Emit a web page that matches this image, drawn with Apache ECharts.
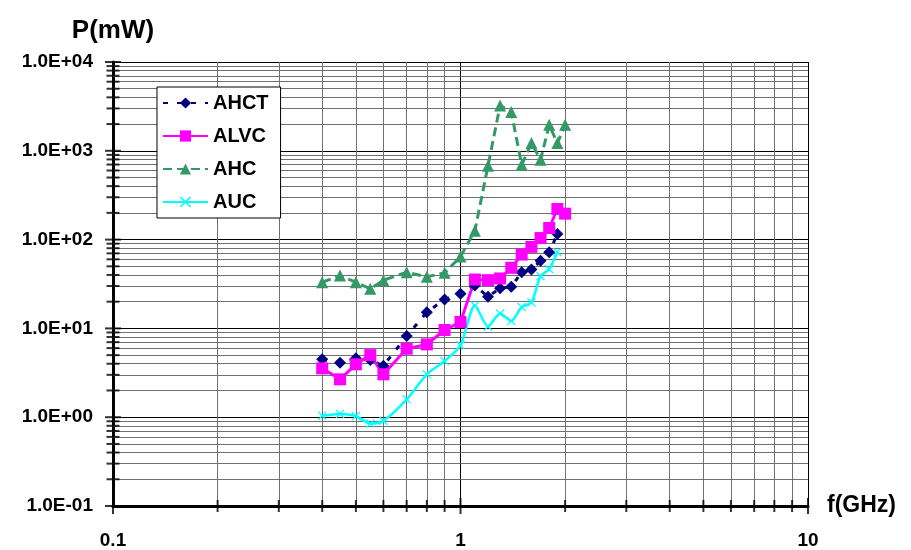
<!DOCTYPE html>
<html>
<head>
<meta charset="utf-8">
<title>P(mW) vs f(GHz)</title>
<script src="https://cdn.jsdelivr.net/npm/echarts@6/dist/echarts.min.js"></script>
<style>
  html, body { margin: 0; padding: 0; background: #ffffff; overflow: hidden; }
  #chart { width: 911px; height: 550px; }
</style>
</head>
<body>
<div id="chart"></div>
<script>
// Frequency points (GHz) shared by all series
const freqs = [0.4, 0.45, 0.5, 0.55, 0.6, 0.7, 0.8, 0.9, 1.0, 1.1, 1.2, 1.3, 1.4, 1.5, 1.6, 1.7, 1.8, 1.9, 2.0];

// Power (mW) per technique
const ahct = [4.5, 4.1, 4.6, 4.4, 3.8, 8.2, 15.2, 21.2, 24.5, 30.4, 22.7, 28.4, 29.4, 42.9, 46, 57.6, 72, 116];
const alvc = [3.55, 2.67, 3.94, 5.0, 3.04, 5.9, 6.6, 9.6, 11.8, 35.5, 34.9, 36.5, 48.1, 67.8, 82.8, 104, 135, 221, 196];
const ahc  = [33.1, 39.4, 33.1, 27.9, 34.9, 42.9, 38.1, 42.2, 64.4, 126, 678, 3245, 2743, 696, 1221, 792, 1960, 1221, 1960];
const auc  = [1.04, 1.09, 1.03, 0.85, 0.91, 1.59, 3.04, 4.29, 6.44, 18.1, 10.5, 14.7, 12.1, 17.4, 19.6, 38.7, 46.6, 72.4];

// Axis ticks and their labels
const xTicks = [0.1, 1, 10];
const xTickLabels = ['0.1', '1', '10'];
const yTicks = [0.1, 1, 10, 100, 1000, 10000];
const yTickLabels = ['1.0E-01', '1.0E+00', '1.0E+01', '1.0E+02', '1.0E+03', '1.0E+04'];
const minorSteps = [2, 3, 4, 5, 6, 7, 8, 9];

const FONT = '"Liberation Sans", Arial, sans-serif';

function pairs(values) {
  return values.map((v, i) => [freqs[i], v]);
}

function labelFor(ticks, labels) {
  return function (v) {
    for (let i = 0; i < ticks.length; i++) {
      if (Math.abs(Math.log10(v) - Math.log10(ticks[i])) < 1e-6) return labels[i];
    }
    return '';
  };
}

// Minor (2..9) values inside each decade of an axis
function minorValues(ticks) {
  const out = [];
  for (let i = 0; i < ticks.length - 1; i++) {
    minorSteps.forEach(m => out.push(ticks[i] * m));
  }
  return out;
}

const xMinor = minorValues(xTicks);
const yMinor = minorValues(yTicks);

// Thin diagonal cross used as the AUC marker
const crossPath = 'path://M0,1 L1,0 L5,4 L9,0 L10,1 L6,5 L10,9 L9,10 L5,6 L1,10 L0,9 L4,5 Z';

const gridMinorLines = []
  .concat(xMinor.map(v => ({ xAxis: v })))
  .concat(yMinor.map(v => ({ yAxis: v })));

const yTickMarks = yTicks.map(v => ({ value: [0.1, v], symbolSize: [16, 2] }))
  .concat(yMinor.map(v => ({ value: [0.1, v], symbolSize: [13, 2] })));
const xTickMarks = xTicks.map(v => ({ value: [v, 0.1], symbolSize: [2, 16] }))
  .concat(xMinor.map(v => ({ value: [v, 0.1], symbolSize: [2, 12] })));

const chart = echarts.init(document.getElementById('chart'), null, { renderer: 'canvas' });

chart.setOption({
  animation: false,
  backgroundColor: '#ffffff',
  textStyle: { fontFamily: FONT },
  grid: { left: 113, right: 103, top: 62, bottom: 39, containLabel: false },
  legend: {
    orient: 'vertical',
    left: 157,
    top: 87,
    data: ['AHCT', 'ALVC', 'AHC', 'AUC'],
    backgroundColor: '#ffffff',
    borderColor: '#000000',
    borderWidth: 1,
    borderRadius: 0,
    padding: [6, 12, 6, 5],
    itemWidth: 45,
    itemHeight: 14,
    itemGap: 13,
    textStyle: { fontFamily: FONT, fontSize: 20, fontWeight: 'bold', color: '#000000', lineHeight: 20 },
    selectedMode: false
  },
  xAxis: {
    type: 'log',
    logBase: 10,
    min: 0.1,
    max: 10,
    name: 'f(GHz)',
    nameLocation: 'end',
    nameGap: 19,
    nameTextStyle: { fontFamily: FONT, fontSize: 23, fontWeight: 'bold', color: '#000', align: 'left', verticalAlign: 'middle', padding: [0, 0, 14, 0] },
    axisLine: { show: true, lineStyle: { color: '#000', width: 3 } },
    axisTick: { show: false },
    minorTick: { show: false },
    axisLabel: {
      margin: 25,
      fontFamily: FONT, fontSize: 19, fontWeight: 'bold', color: '#000',
      formatter: labelFor(xTicks, xTickLabels)
    },
    splitLine: { show: true, lineStyle: { color: '#000', width: 1 } }
  },
  yAxis: {
    type: 'log',
    logBase: 10,
    min: 0.1,
    max: 10000,
    name: 'P(mW)',
    nameLocation: 'end',
    nameGap: 31,
    nameTextStyle: { fontFamily: FONT, fontSize: 26, fontWeight: 'bold', color: '#000', align: 'center', verticalAlign: 'middle' },
    axisLine: { show: true, lineStyle: { color: '#000', width: 3 } },
    axisTick: { show: false },
    minorTick: { show: false },
    axisLabel: {
      margin: 20,
      fontFamily: FONT, fontSize: 19, fontWeight: 'bold', color: '#000',
      formatter: labelFor(yTicks, yTickLabels)
    },
    splitLine: { show: true, lineStyle: { color: '#000', width: 1 } }
  },
  series: [
    {
      // minor grid lines
      name: 'minorGrid',
      type: 'line',
      data: [],
      silent: true,
      z: 1,
      markLine: {
        silent: true,
        z: 1,
        symbol: ['none', 'none'],
        label: { show: false },
        emphasis: { disabled: true },
        lineStyle: { color: '#707070', width: 1, type: 'solid' },
        data: gridMinorLines
      }
    },
    {
      name: 'AHCT',
      type: 'line',
      data: pairs(ahct),
      symbol: 'diamond',
      symbolSize: 12,
      z: 3,
      itemStyle: { color: '#000080' },
      lineStyle: { color: '#000080', width: 3, type: [5, 9] }
    },
    {
      name: 'ALVC',
      type: 'line',
      data: pairs(alvc),
      symbol: 'rect',
      symbolSize: 12,
      z: 3,
      itemStyle: { color: '#ff00ff' },
      lineStyle: { color: '#ff00ff', width: 3 }
    },
    {
      name: 'AHC',
      type: 'line',
      data: pairs(ahc),
      symbol: 'triangle',
      symbolSize: 12,
      z: 3,
      itemStyle: { color: '#339966' },
      lineStyle: { color: '#339966', width: 3, type: [9, 5] }
    },
    {
      name: 'AUC',
      type: 'line',
      data: pairs(auc),
      symbol: crossPath,
      symbolSize: 9,
      smooth: 0.25,
      z: 3,
      itemStyle: { color: '#00ffff' },
      lineStyle: { color: '#00ffff', width: 2.5 }
    },
    {
      // tick marks crossing the value axis
      name: 'yTicks',
      type: 'scatter',
      data: yTickMarks,
      symbol: 'rect',
      clip: false,
      silent: true,
      z: 4,
      itemStyle: { color: '#000' }
    },
    {
      // tick marks crossing the frequency axis
      name: 'xTicks',
      type: 'scatter',
      data: xTickMarks,
      symbol: 'rect',
      clip: false,
      silent: true,
      z: 4,
      itemStyle: { color: '#000' }
    }
  ]
});
</script>
</body>
</html>
